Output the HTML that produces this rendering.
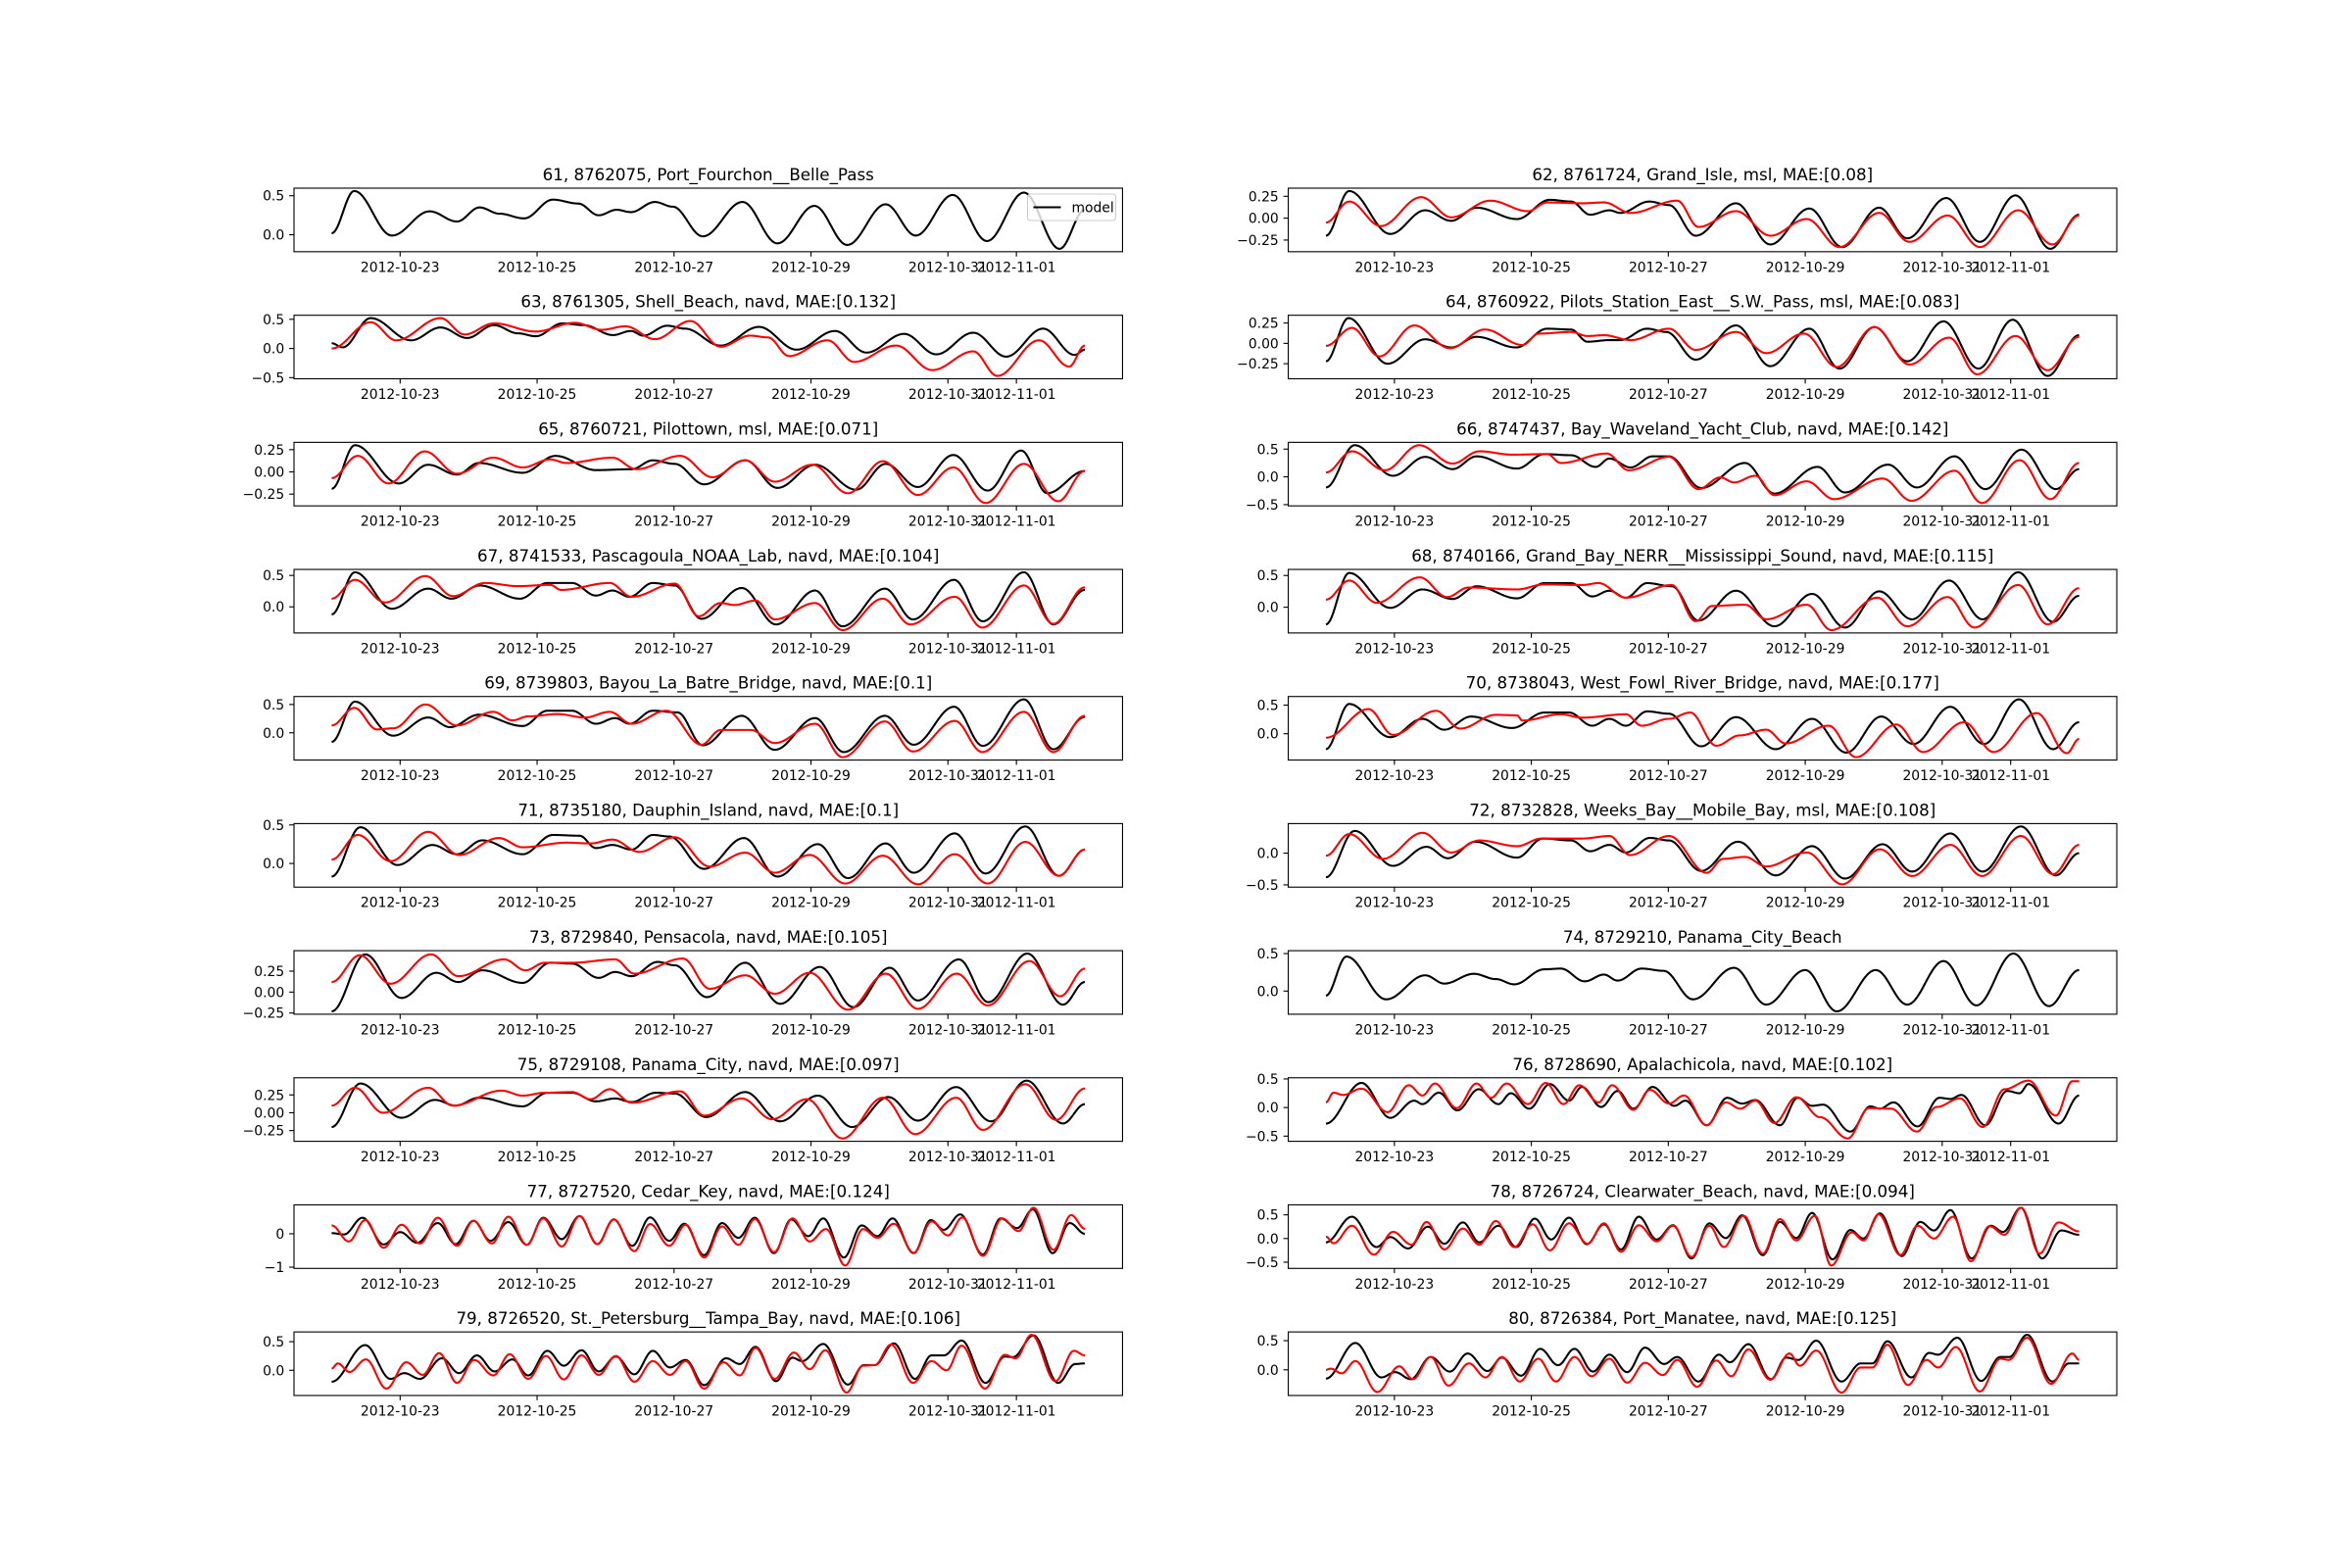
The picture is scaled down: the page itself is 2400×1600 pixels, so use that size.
<!DOCTYPE html>
<html>
<head>
<meta charset="utf-8">
<style>
html,body{margin:0;padding:0;background:#fff;}
svg{display:block;}
text{font-family:"DejaVu Sans","Liberation Sans",sans-serif;fill:#000;}
</style>
</head>
<body>
<svg id="fig" xmlns="http://www.w3.org/2000/svg" width="2400" height="1600" viewBox="0 0 2400 1600">
<rect x="0" y="0" width="2400" height="1600" fill="#fff"/>
</svg>
<script>
// ---- data: times are days since 2012-10-22 00:00, values in metres ----
const titles = [
"61, 8762075, Port_Fourchon__Belle_Pass",
"62, 8761724, Grand_Isle, msl, MAE:[0.08]",
"63, 8761305, Shell_Beach, navd, MAE:[0.132]",
"64, 8760922, Pilots_Station_East__S.W._Pass, msl, MAE:[0.083]",
"65, 8760721, Pilottown, msl, MAE:[0.071]",
"66, 8747437, Bay_Waveland_Yacht_Club, navd, MAE:[0.142]",
"67, 8741533, Pascagoula_NOAA_Lab, navd, MAE:[0.104]",
"68, 8740166, Grand_Bay_NERR__Mississippi_Sound, navd, MAE:[0.115]",
"69, 8739803, Bayou_La_Batre_Bridge, navd, MAE:[0.1]",
"70, 8738043, West_Fowl_River_Bridge, navd, MAE:[0.177]",
"71, 8735180, Dauphin_Island, navd, MAE:[0.1]",
"72, 8732828, Weeks_Bay__Mobile_Bay, msl, MAE:[0.108]",
"73, 8729840, Pensacola, navd, MAE:[0.105]",
"74, 8729210, Panama_City_Beach",
"75, 8729108, Panama_City, navd, MAE:[0.097]",
"76, 8728690, Apalachicola, navd, MAE:[0.102]",
"77, 8727520, Cedar_Key, navd, MAE:[0.124]",
"78, 8726724, Clearwater_Beach, navd, MAE:[0.094]",
"79, 8726520, St._Petersburg__Tampa_Bay, navd, MAE:[0.106]",
"80, 8726384, Port_Manatee, navd, MAE:[0.125]"
];
const xTickDays = [1,3,5,7,9,10];
const xTickLabels = ["2012-10-23","2012-10-25","2012-10-27","2012-10-29","2012-10-31","2012-11-01"];
const yTicksQ = [-0.25,0,0.25];
const yTicksQLabels = ["\u22120.25","0.00","0.25"];
const yTicksH = [-0.5,0,0.5];
const yTicksHLabels = ["\u22120.5","0.0","0.5"];
const yTicksOne = [-1,0];
const yTicksOneLabels = ["\u22121","0"];
const tickSet = ["H","Q","H","Q","Q","H","H","H","H","H","H","H","Q","H","Q","H","O","H","H","H"];

const t61m=[0,0.33,0.88,1.43,1.83,2.16,2.45,2.81,3.23,3.6,3.9,4.16,4.37,4.72,4.98,5.42,6.0,6.51,7.05,7.53,8.09,8.53,9.07,9.57,10.11,10.63,11];
const v61m=[0.02,0.56,-0.01,0.30,0.17,0.35,0.27,0.21,0.45,0.40,0.25,0.32,0.29,0.42,0.36,-0.02,0.42,-0.11,0.37,-0.13,0.39,-0.01,0.51,-0.08,0.54,-0.18,0.32];

const t62m=[0,0.34,0.94,1.45,1.83,2.20,2.79,3.27,3.58,3.86,4.14,4.30,4.72,5.01,5.40,5.99,6.49,7.06,7.54,8.08,8.49,9.06,9.55,10.07,10.58,11];
const v62m=[-0.20,0.31,-0.18,0.09,-0.03,0.12,-0.01,0.21,0.19,0.04,0.09,0.06,0.19,0.15,-0.20,0.17,-0.30,0.11,-0.33,0.12,-0.23,0.23,-0.27,0.26,-0.35,0.04];
const t62o=[0,0.34,0.80,1.39,1.83,2.40,2.95,3.23,3.74,4.06,4.45,5.13,5.44,5.99,6.49,7.02,7.50,8.08,8.52,9.08,9.55,10.11,10.61,11];
const v62o=[-0.05,0.19,-0.09,0.24,0.01,0.20,0.08,0.18,0.17,0.18,0.06,0.20,-0.10,0.08,-0.20,-0.01,-0.33,0.06,-0.27,0.03,-0.33,0.09,-0.30,0.03];

const t63m=[0,0.16,0.57,1.16,1.59,1.98,2.37,2.72,2.98,3.37,3.68,4.11,4.37,4.55,4.9,5.16,5.68,6.24,6.79,7.35,7.81,8.36,8.83,9.37,9.85,10.39,10.85,11];
const v63m=[0.09,0.02,0.52,0.14,0.36,0.18,0.40,0.26,0.21,0.43,0.40,0.23,0.30,0.22,0.39,0.34,0.05,0.37,-0.02,0.30,-0.07,0.25,-0.10,0.27,-0.14,0.34,-0.11,-0.02];
const t63o=[0,0.57,0.94,1.59,1.94,2.37,2.98,3.55,3.94,4.29,4.72,5.24,5.68,6.11,6.37,6.68,7.24,7.63,8.24,8.77,9.37,9.72,10.33,10.77,11];
const v63o=[0,0.45,0.14,0.52,0.24,0.43,0.29,0.44,0.32,0.38,0.16,0.47,0.03,0.22,0.19,-0.13,0.14,-0.23,0.05,-0.37,-0.05,-0.47,0.14,-0.31,0.05];

const t64m=[0,0.33,0.90,1.45,1.83,2.20,2.78,3.23,3.58,3.82,4.14,4.30,4.69,4.97,5.40,5.99,6.49,7.06,7.50,8.01,8.49,9.02,9.53,10.03,10.54,11];
const v64m=[-0.22,0.31,-0.25,0.05,-0.05,0.08,-0.05,0.18,0.17,0.02,0.04,0.04,0.18,0.14,-0.20,0.22,-0.28,0.18,-0.31,0.20,-0.22,0.27,-0.31,0.29,-0.40,0.10];
const t64o=[0,0.38,0.78,1.29,1.81,2.32,2.87,3.11,3.58,3.82,4.06,4.45,5.01,5.40,5.99,6.43,6.98,7.46,8.01,8.52,9.10,9.51,10.07,10.54,11];
const v64o=[-0.03,0.19,-0.16,0.22,-0.06,0.17,-0.02,0.12,0.14,0.09,0.10,0.04,0.18,-0.08,0.14,-0.12,0.12,-0.29,0.20,-0.26,0.07,-0.38,0.09,-0.33,0.08];

const t65m=[0,0.34,0.98,1.41,1.83,2.15,2.79,3.27,3.86,4.38,4.69,5.01,5.44,6.04,6.51,7.06,7.66,8.09,8.56,9.08,9.58,10.07,10.45,11];
const v65m=[-0.19,0.30,-0.13,0.08,-0.03,0.10,-0.01,0.18,0.02,0.03,0.13,0.09,-0.14,0.13,-0.18,0.08,-0.20,0.09,-0.17,0.19,-0.21,0.24,-0.24,0.01];
const t65o=[0,0.38,0.83,1.36,1.83,2.36,2.79,3.19,3.43,4.10,4.45,5.09,5.56,6.04,6.47,7.02,7.54,8.05,8.56,9.08,9.55,10.11,10.61,11];
const v65o=[-0.07,0.18,-0.13,0.23,-0.02,0.16,0.05,0.14,0.10,0.16,0.03,0.18,-0.06,0.13,-0.11,0.08,-0.24,0.12,-0.26,0.05,-0.35,0.09,-0.33,0.01];

const t66m=[0,0.42,0.98,1.45,1.85,2.20,2.79,3.19,3.58,3.94,4.14,4.45,4.77,5.01,5.48,6.12,6.55,7.18,7.58,8.21,8.63,9.18,9.63,10.16,10.66,11];
const v66m=[-0.19,0.57,0.02,0.36,0.14,0.37,0.15,0.41,0.39,0.18,0.33,0.17,0.37,0.37,-0.20,0.25,-0.30,0.18,-0.28,0.22,-0.19,0.37,-0.22,0.49,-0.22,0.14];
const t66o=[0,0.38,0.86,1.36,1.85,2.24,2.72,3.23,3.43,4.10,4.42,5.01,5.44,5.76,5.96,6.27,6.55,7.02,7.42,8.13,8.55,9.18,9.58,10.13,10.58,11];
const v66o=[0.08,0.46,0.12,0.57,0.24,0.46,0.40,0.41,0.25,0.42,0.12,0.36,-0.22,-0.01,-0.10,0.02,-0.33,-0.08,-0.40,-0.03,-0.43,0.11,-0.47,0.30,-0.40,0.25];

const t67m=[0,0.34,0.88,1.41,1.75,2.16,2.75,3.15,3.51,3.86,4.10,4.35,4.69,5.01,5.40,5.99,6.49,7.06,7.46,8.08,8.49,9.09,9.51,10.11,10.54,11];
const v67m=[-0.12,0.55,-0.03,0.29,0.13,0.34,0.13,0.38,0.38,0.18,0.26,0.16,0.38,0.34,-0.19,0.30,-0.28,0.26,-0.31,0.29,-0.20,0.43,-0.23,0.55,-0.28,0.27];
const t67o=[0,0.34,0.78,1.37,1.77,2.24,2.72,3.19,3.35,4.06,4.38,5.01,5.36,5.68,5.88,6.19,6.47,7.06,7.46,8.05,8.45,9.10,9.50,10.11,10.54,11];
const v67o=[0.13,0.43,0.07,0.49,0.17,0.38,0.33,0.35,0.27,0.38,0.16,0.37,-0.15,0.06,0.03,0.10,-0.20,0.06,-0.37,0.13,-0.28,0.16,-0.33,0.34,-0.27,0.31];

const t68m=[0,0.34,0.94,1.41,1.85,2.20,2.79,3.19,3.58,3.89,4.14,4.38,4.69,5.05,5.44,5.99,6.55,7.10,7.58,8.08,8.56,9.10,9.59,10.11,10.62,11];
const v68m=[-0.27,0.54,-0.01,0.28,0.13,0.33,0.14,0.38,0.38,0.17,0.26,0.15,0.38,0.33,-0.21,0.26,-0.30,0.21,-0.32,0.25,-0.19,0.42,-0.19,0.55,-0.23,0.18];
const t68o=[0,0.34,0.74,1.37,1.77,2.08,2.79,3.19,3.74,3.98,4.38,5.05,5.40,5.64,6.12,6.43,7.02,7.38,8.05,8.49,9.08,9.47,10.11,10.54,11];
const v68o=[0.12,0.42,0.07,0.47,0.16,0.31,0.28,0.36,0.35,0.38,0.15,0.35,-0.22,0.02,0.04,-0.19,0.04,-0.36,0.15,-0.30,0.16,-0.32,0.35,-0.27,0.30];

const t69m=[0,0.34,0.90,1.41,1.73,2.15,2.79,3.15,3.51,3.86,4.14,4.35,4.69,5.05,5.42,5.99,6.47,7.06,7.48,8.08,8.50,9.09,9.51,10.11,10.54,11];
const v69m=[-0.16,0.55,-0.05,0.27,0.10,0.32,0.12,0.39,0.39,0.16,0.26,0.16,0.39,0.36,-0.22,0.30,-0.30,0.26,-0.34,0.30,-0.21,0.46,-0.23,0.59,-0.29,0.28];
const t69o=[0,0.33,0.66,0.90,1.37,1.83,2.36,2.64,2.87,3.30,3.70,4.06,4.38,4.89,5.40,5.68,6.12,6.47,7.06,7.46,8.08,8.49,9.10,9.50,10.11,10.54,11];
const v69o=[0.13,0.44,0.06,0.08,0.50,0.13,0.37,0.22,0.29,0.33,0.27,0.37,0.16,0.39,-0.21,0.05,0.05,-0.18,0.16,-0.43,0.20,-0.33,0.21,-0.34,0.37,-0.34,0.30];

const t70m=[0,0.34,0.94,1.41,1.73,2.12,2.72,3.19,3.55,3.89,4.14,4.38,4.69,5.01,5.48,5.99,6.57,7.10,7.60,8.11,8.58,9.12,9.61,10.12,10.62,11];
const v70m=[-0.27,0.52,-0.06,0.26,0.07,0.30,0.10,0.37,0.37,0.14,0.26,0.14,0.39,0.35,-0.22,0.29,-0.27,0.26,-0.33,0.30,-0.18,0.47,-0.18,0.60,-0.27,0.20];
const t70o=[0,0.62,0.98,1.61,1.96,2.48,2.79,2.87,3.43,3.74,4.38,4.61,5.01,5.32,5.70,6.04,6.43,6.71,7.34,7.74,8.33,8.72,9.32,9.75,10.38,10.82,11];
const v70o=[-0.07,0.43,-0.02,0.40,0.09,0.33,0.32,0.23,0.34,0.28,0.34,0.14,0.26,0.37,-0.21,-0.03,0.07,-0.17,0.14,-0.41,0.16,-0.32,0.20,-0.32,0.36,-0.34,-0.09];

const t71m=[0,0.42,0.96,1.47,1.83,2.20,2.79,3.23,3.62,3.86,4.10,4.38,4.69,4.93,5.44,6.02,6.51,7.10,7.54,8.09,8.50,9.10,9.55,10.13,10.62,11];
const v71m=[-0.17,0.47,-0.02,0.24,0.12,0.30,0.12,0.37,0.36,0.20,0.24,0.18,0.37,0.35,-0.07,0.33,-0.17,0.25,-0.19,0.26,-0.12,0.39,-0.13,0.48,-0.16,0.18];
const t71o=[0,0.38,0.86,1.41,1.86,2.44,2.79,3.43,3.78,4.10,4.49,5.01,5.52,6.04,6.47,6.98,7.50,8.05,8.56,9.10,9.58,10.13,10.62,11];
const v71o=[0.05,0.37,0.03,0.41,0.11,0.33,0.21,0.27,0.26,0.31,0.15,0.34,-0.04,0.14,-0.12,0.11,-0.26,0.10,-0.27,0.12,-0.26,0.28,-0.16,0.18];

const t72m=[0,0.42,0.98,1.47,1.78,2.18,2.79,3.17,3.58,3.86,4.14,4.38,4.73,5.01,5.48,6.02,6.57,7.10,7.58,8.13,8.56,9.12,9.59,10.15,10.66,11];
const v72m=[-0.38,0.35,-0.20,0.10,-0.08,0.18,-0.07,0.23,0.20,0.03,0.13,0.01,0.24,0.20,-0.28,0.18,-0.35,0.11,-0.40,0.14,-0.29,0.31,-0.29,0.42,-0.35,0.0];
const t72o=[0,0.34,0.83,1.41,1.83,2.24,2.79,3.15,3.74,4.14,4.44,5.01,5.56,5.80,6.12,6.43,7.02,7.54,8.09,8.56,9.12,9.58,10.15,10.62,11];
const v72o=[-0.04,0.30,-0.09,0.32,0.01,0.20,0.11,0.23,0.23,0.27,-0.03,0.27,-0.31,-0.09,-0.06,-0.21,0.01,-0.49,0.06,-0.36,0.13,-0.36,0.27,-0.33,0.13];

const t73m=[0,0.49,1.02,1.53,1.85,2.20,2.79,3.19,3.51,3.90,4.14,4.38,4.76,5.01,5.48,6.04,6.55,7.13,7.62,8.15,8.56,9.16,9.59,10.16,10.68,11];
const v73m=[-0.23,0.45,-0.07,0.23,0.12,0.26,0.11,0.35,0.34,0.17,0.24,0.19,0.36,0.32,-0.06,0.35,-0.14,0.30,-0.18,0.29,-0.10,0.39,-0.12,0.46,-0.15,0.12];
const t73o=[0,0.41,0.86,1.45,1.85,2.52,2.83,3.11,3.51,4.14,4.42,5.13,5.52,6.04,6.47,6.98,7.54,8.09,8.56,9.13,9.58,10.19,10.64,11];
const v73o=[0.12,0.44,0.10,0.45,0.19,0.39,0.26,0.35,0.35,0.39,0.22,0.40,0.04,0.20,-0.02,0.23,-0.21,0.22,-0.20,0.22,-0.16,0.37,-0.05,0.28];

const t74m=[0,0.30,0.88,1.45,1.73,2.16,2.48,2.75,3.19,3.43,3.78,4.06,4.26,4.61,4.93,5.36,5.96,6.43,7.00,7.46,8.03,8.49,9.02,9.50,10.04,10.56,11];
const v74m=[-0.06,0.46,-0.11,0.21,0.10,0.23,0.16,0.09,0.29,0.30,0.13,0.22,0.14,0.30,0.27,-0.11,0.31,-0.18,0.28,-0.27,0.28,-0.18,0.40,-0.19,0.50,-0.20,0.28];

const t75m=[0,0.42,1.02,1.51,1.81,2.15,2.79,3.15,3.51,3.86,4.14,4.38,4.73,5.01,5.47,6.04,6.55,7.10,7.60,8.13,8.56,9.12,9.63,10.15,10.68,11];
const v75m=[-0.20,0.41,-0.07,0.18,0.10,0.21,0.09,0.28,0.28,0.16,0.20,0.15,0.28,0.27,-0.06,0.29,-0.12,0.24,-0.20,0.22,-0.11,0.36,-0.12,0.45,-0.15,0.12];
const t75o=[0,0.34,0.75,1.41,1.77,2.48,2.79,3.11,3.51,3.78,4.06,4.38,5.09,5.44,5.99,6.43,6.94,7.46,8.05,8.52,9.12,9.51,10.13,10.58,11];
const v75o=[0.10,0.35,0.0,0.35,0.10,0.31,0.24,0.28,0.29,0.19,0.33,0.14,0.30,-0.04,0.20,-0.09,0.19,-0.36,0.21,-0.30,0.21,-0.24,0.40,-0.10,0.34];

const t76m=[0,0.52,0.94,1.29,1.41,1.65,1.92,2.23,2.52,2.70,2.97,3.27,3.55,3.74,4.02,4.26,4.49,4.77,5.09,5.25,5.56,5.86,6.08,6.27,6.63,6.89,7.10,7.26,7.66,7.95,8.09,8.29,8.64,8.96,9.12,9.28,9.63,9.95,10.13,10.26,10.70,11];
const v76m=[-0.28,0.43,-0.18,0.12,0.06,0.26,-0.05,0.32,0.06,0.25,-0.02,0.41,0.12,0.36,0.01,0.29,-0.02,0.36,0.03,0.12,-0.31,0.17,0.07,0.13,-0.31,0.17,0.03,0.05,-0.42,0.02,-0.02,0.09,-0.33,0.17,0.15,0.22,-0.31,0.29,0.25,0.41,-0.28,0.21];
const t76o=[0,0.11,0.25,0.52,0.90,1.21,1.41,1.59,1.91,2.20,2.41,2.64,2.95,3.21,3.47,3.70,3.98,4.18,4.49,4.73,5.01,5.23,5.56,5.84,6.05,6.27,6.55,6.87,7.22,7.62,7.93,8.25,8.63,8.92,9.26,9.59,9.91,10.26,10.66,10.90,11];
const v76o=[0.09,0.26,0.22,0.33,-0.08,0.39,0.21,0.42,-0.01,0.42,0.17,0.42,0.06,0.43,0.06,0.39,0.09,0.39,-0.04,0.31,0.07,0.21,-0.31,0.09,-0.02,0.12,-0.27,0.18,-0.17,-0.54,-0.01,-0.02,-0.42,0.01,0.16,-0.34,0.32,0.47,-0.14,0.46,0.46];

const t77m=[0,0.18,0.45,0.76,1.00,1.25,1.55,1.81,2.07,2.32,2.58,2.85,3.09,3.36,3.62,3.88,4.12,4.39,4.65,4.93,5.15,5.44,5.70,5.94,6.18,6.46,6.71,6.96,7.18,7.48,7.74,7.97,8.19,8.50,8.75,8.94,9.18,9.51,9.77,10.01,10.24,10.53,10.78,11];
const v77m=[0.02,-0.02,0.48,-0.32,0.05,-0.27,0.32,-0.31,0.39,-0.21,0.35,-0.33,0.48,-0.16,0.53,-0.31,0.43,-0.36,0.49,-0.21,0.30,-0.64,0.32,-0.12,0.48,-0.58,0.43,-0.07,0.46,-0.71,0.25,-0.07,0.46,-0.58,0.41,0.12,0.58,-0.62,0.46,0.17,0.73,-0.58,0.32,0.0];
const t77o=[0,0.25,0.49,0.76,1.02,1.29,1.55,1.83,2.07,2.34,2.58,2.85,3.09,3.36,3.62,3.88,4.12,4.42,4.65,4.93,5.17,5.44,5.70,5.94,6.18,6.46,6.73,6.98,7.22,7.50,7.76,7.97,8.21,8.50,8.76,9.00,9.21,9.51,9.79,10.03,10.25,10.54,10.80,11];
const v77o=[0.25,-0.23,0.41,-0.42,0.27,-0.29,0.48,-0.36,0.39,-0.29,0.51,-0.33,0.46,-0.38,0.53,-0.31,0.43,-0.52,0.29,-0.36,0.27,-0.71,0.22,-0.33,0.44,-0.55,0.46,-0.23,0.14,-0.95,0.14,-0.12,0.30,-0.57,0.37,-0.05,0.49,-0.66,0.46,0.08,0.78,-0.48,0.56,0.15];

const t78m=[0,0.38,0.74,0.94,1.20,1.49,1.73,2.00,2.24,2.52,2.78,3.05,3.29,3.55,3.81,4.06,4.31,4.57,4.83,5.07,5.34,5.60,5.84,6.08,6.38,6.63,6.87,7.10,7.40,7.66,7.85,8.09,8.41,8.68,8.88,9.12,9.43,9.71,9.89,10.15,10.46,10.74,11];
const v78m=[-0.08,0.46,-0.18,0.03,-0.21,0.25,-0.11,0.34,-0.08,0.27,-0.18,0.42,-0.02,0.44,-0.12,0.30,-0.23,0.46,-0.02,0.28,-0.42,0.32,0.01,0.49,-0.35,0.35,0.01,0.54,-0.44,0.18,0.0,0.53,-0.37,0.35,0.17,0.60,-0.42,0.27,0.14,0.65,-0.42,0.17,0.08];
const t78o=[0,0.11,0.38,0.70,0.98,1.25,1.47,1.73,2.00,2.24,2.48,2.75,3.02,3.27,3.55,3.82,4.06,4.31,4.57,4.83,5.07,5.34,5.60,5.81,6.10,6.38,6.63,6.87,7.14,7.38,7.68,7.85,8.07,8.39,8.64,8.88,9.16,9.42,9.69,9.91,10.15,10.42,10.70,11];
const v78o=[0.04,-0.10,0.27,-0.34,0.14,-0.13,0.35,-0.23,0.21,-0.13,0.37,-0.18,0.30,-0.25,0.32,-0.11,0.32,-0.28,0.28,-0.06,0.27,-0.39,0.27,-0.18,0.48,-0.32,0.41,-0.04,0.48,-0.57,0.13,-0.04,0.51,-0.35,0.27,0.0,0.46,-0.48,0.26,0.08,0.65,-0.32,0.34,0.15];

const t79m=[0,0.49,0.86,1.06,1.29,1.61,1.86,2.12,2.38,2.64,2.87,3.15,3.39,3.65,3.90,4.15,4.42,4.69,4.94,5.17,5.44,5.76,5.96,6.19,6.49,6.73,6.87,7.18,7.54,7.77,7.93,8.21,8.52,8.76,8.94,9.20,9.55,9.83,9.95,10.25,10.61,10.86,11];
const v79m=[-0.20,0.44,-0.15,-0.05,-0.15,0.21,-0.05,0.26,-0.02,0.19,-0.09,0.34,0.08,0.35,-0.02,0.24,-0.07,0.34,0.05,0.18,-0.26,0.21,0.11,0.41,-0.19,0.22,0.16,0.46,-0.25,0.09,0.09,0.47,-0.15,0.26,0.26,0.52,-0.22,0.24,0.23,0.61,-0.22,0.11,0.12];
const t79o=[0,0.09,0.26,0.50,0.80,1.09,1.33,1.57,1.83,2.08,2.36,2.60,2.87,3.13,3.39,3.65,3.90,4.15,4.42,4.69,4.94,5.17,5.44,5.72,5.96,6.19,6.47,6.75,6.98,7.21,7.52,7.76,7.93,8.17,8.49,8.76,8.98,9.20,9.54,9.83,9.99,10.22,10.57,10.84,11];
const v79o=[0.03,0.12,-0.03,0.19,-0.32,0.14,-0.08,0.30,-0.22,0.18,-0.09,0.28,-0.15,0.25,-0.16,0.26,-0.08,0.25,-0.20,0.16,-0.08,0.16,-0.32,0.14,-0.09,0.39,-0.15,0.31,0.02,0.35,-0.39,0.08,0.09,0.45,-0.22,0.16,0.0,0.43,-0.32,0.27,0.21,0.62,-0.19,0.34,0.26];

const t80m=[0,0.43,0.81,1.01,1.24,1.53,1.81,2.07,2.36,2.57,2.85,3.13,3.39,3.63,3.90,4.14,4.40,4.66,4.94,5.13,5.44,5.74,5.90,6.17,6.50,6.72,6.90,7.16,7.53,7.81,7.98,8.20,8.55,8.81,8.94,9.22,9.57,9.85,9.98,10.24,10.61,10.85,11];
const v80m=[-0.15,0.46,-0.13,-0.04,-0.16,0.22,-0.03,0.28,-0.02,0.21,-0.10,0.36,0.08,0.36,-0.03,0.26,-0.04,0.38,0.10,0.22,-0.20,0.26,0.13,0.44,-0.16,0.21,0.17,0.50,-0.20,0.11,0.11,0.49,-0.13,0.29,0.26,0.55,-0.19,0.22,0.22,0.60,-0.20,0.11,0.11];
const t80o=[0,0.07,0.23,0.43,0.75,1.07,1.27,1.53,1.79,2.09,2.33,2.57,2.83,3.10,3.36,3.63,3.88,4.14,4.40,4.66,4.92,5.13,5.42,5.70,5.92,6.17,6.49,6.77,6.92,7.16,7.53,7.81,7.98,8.20,8.50,8.77,8.94,9.20,9.55,9.85,9.97,10.24,10.59,10.90,11];
const v80o=[0.0,0.02,-0.06,0.15,-0.38,0.06,-0.16,0.22,-0.27,0.11,-0.13,0.22,-0.20,0.19,-0.20,0.22,-0.11,0.19,-0.22,0.12,-0.09,0.17,-0.29,0.16,-0.11,0.35,-0.17,0.28,0.07,0.33,-0.39,0.04,0.04,0.43,-0.26,0.17,0.04,0.39,-0.37,0.19,0.17,0.55,-0.24,0.28,0.17];

const modelT=[t61m,t62m,t63m,t64m,t65m,t66m,t67m,t68m,t69m,t70m,t71m,t72m,t73m,t74m,t75m,t76m,t77m,t78m,t79m,t80m];
const modelV=[v61m,v62m,v63m,v64m,v65m,v66m,v67m,v68m,v69m,v70m,v71m,v72m,v73m,v74m,v75m,v76m,v77m,v78m,v79m,v80m];
const obsT=[null,t62o,t63o,t64o,t65o,t66o,t67o,t68o,t69o,t70o,t71o,t72o,t73o,null,t75o,t76o,t77o,t78o,t79o,t80o];
const obsV=[null,v62o,v63o,v64o,v65o,v66o,v67o,v68o,v69o,v70o,v71o,v72o,v73o,null,v75o,v76o,v77o,v78o,v79o,v80o];

// ---- layout ----
const NS="http://www.w3.org/2000/svg";
const svg=document.getElementById('fig');
const AXW=845.45, AXH=64.84, PITCH=129.68, TOP0=192;
const XMIN=-0.55, XMAX=11.55;
function mk(tag, attrs, parent){
  const e=document.createElementNS(NS,tag);
  for(const k in attrs) e.setAttribute(k,attrs[k]);
  (parent||svg).appendChild(e);
  return e;
}
function curvePath(ts, vs, xf, yf){
  const n=Math.min(ts.length, vs.length);
  let d="M"+xf(ts[0]).toFixed(2)+","+yf(vs[0]).toFixed(2);
  for(let i=0;i<n-1;i++){
    const t0=ts[i], t1=ts[i+1], a=vs[i], b=vs[i+1];
    const steps=Math.max(2, Math.ceil((t1-t0)/0.01));
    for(let s=1;s<=steps;s++){
      const u=s/steps;
      const t=t0+(t1-t0)*u;
      const v=a+(b-a)*(1-Math.cos(Math.PI*u))/2;
      d+="L"+xf(t).toFixed(2)+","+yf(v).toFixed(2);
    }
  }
  return d;
}

for(let i=0;i<20;i++){
  const col=i%2, row=Math.floor(i/2);
  const L= col===0 ? 300 : 1314.55;
  const T= TOP0 + row*PITCH;
  const B= T + AXH;
  const g=mk('g',{});
  
  

  let lo=Infinity, hi=-Infinity;
  const series=[modelV[i]]; if(obsV[i]) series.push(obsV[i]);
  series.forEach(a=>a.forEach(v=>{ if(v<lo) lo=v; if(v>hi) hi=v; }));
  const pad=(hi-lo)*0.05; const y0=lo-pad, y1=hi+pad;
  const xf=t=> L + (t-XMIN)/(XMAX-XMIN)*AXW;
  const yf=v=> B - (v-y0)/(y1-y0)*AXH;

  const tt=mk('text',{x:(L+AXW/2).toFixed(2), y:(T-8).toFixed(2), 'text-anchor':'middle','font-size':'16.7'},g);
  tt.textContent=titles[i];
  
  

  const cp=mk('clipPath',{id:'clip'+i},g);
  mk('rect',{x:L,y:T,width:AXW,height:AXH},cp);

  const mp=mk('path',{d:curvePath(modelT[i],modelV[i],xf,yf),fill:'none',stroke:'#000','stroke-width':'2.08','stroke-linejoin':'round','clip-path':'url(#clip'+i+')'},g);
  
  
  if(obsT[i]){
    const op=mk('path',{d:curvePath(obsT[i],obsV[i],xf,yf),fill:'none',stroke:'#ff0000','stroke-width':'2.08','stroke-linejoin':'round','clip-path':'url(#clip'+i+')'},g);
    
    
  }

  const fr=mk('rect',{x:L,y:T,width:AXW,height:AXH,fill:'none',stroke:'#000','stroke-width':'1.11'},g);
  
  

  xTickDays.forEach((d,k)=>{
    const x=xf(d);
    mk('line',{x1:x,y1:B,x2:x,y2:B+4.9,stroke:'#000','stroke-width':'1.11'},g);
    const lb=mk('text',{x:x.toFixed(2),y:(B+20.5).toFixed(2),'text-anchor':'middle','font-size':'13.9'},g);
    lb.textContent=xTickLabels[k];
    
    
  });

  const ts = tickSet[i]==="Q" ? yTicksQ : (tickSet[i]==="O" ? yTicksOne : yTicksH);
  const tl = tickSet[i]==="Q" ? yTicksQLabels : (tickSet[i]==="O" ? yTicksOneLabels : yTicksHLabels);
  ts.forEach((v,k)=>{
    if(v<y0-1e-9 || v>y1+1e-9) return;
    const y=yf(v);
    mk('line',{x1:L-4.9,y1:y,x2:L,y2:y,stroke:'#000','stroke-width':'1.11'},g);
    const lb=mk('text',{x:(L-9.8).toFixed(2),y:(y+5).toFixed(2),'text-anchor':'end','font-size':'13.9'},g);
    lb.textContent=tl[k];
    
    
  });

  if(i===0){
    const lg=mk('g',{},g);
    
    
    const R=L+AXW-7;
    mk('rect',{x:R-90,y:T+6,width:90,height:27,rx:3,ry:3,fill:'#fff','fill-opacity':'0.8',stroke:'#cccccc','stroke-width':'1.11'},lg);
    const hl=mk('line',{x1:R-84,y1:T+19.5,x2:R-56,y2:T+19.5,stroke:'#000','stroke-width':'2.08'},lg);
    
    
    const lt=mk('text',{x:R-45,y:T+24.5,'font-size':'13.9'},lg);
    lt.textContent='model';
    
    
  }
}
</script>
</body>
</html>
